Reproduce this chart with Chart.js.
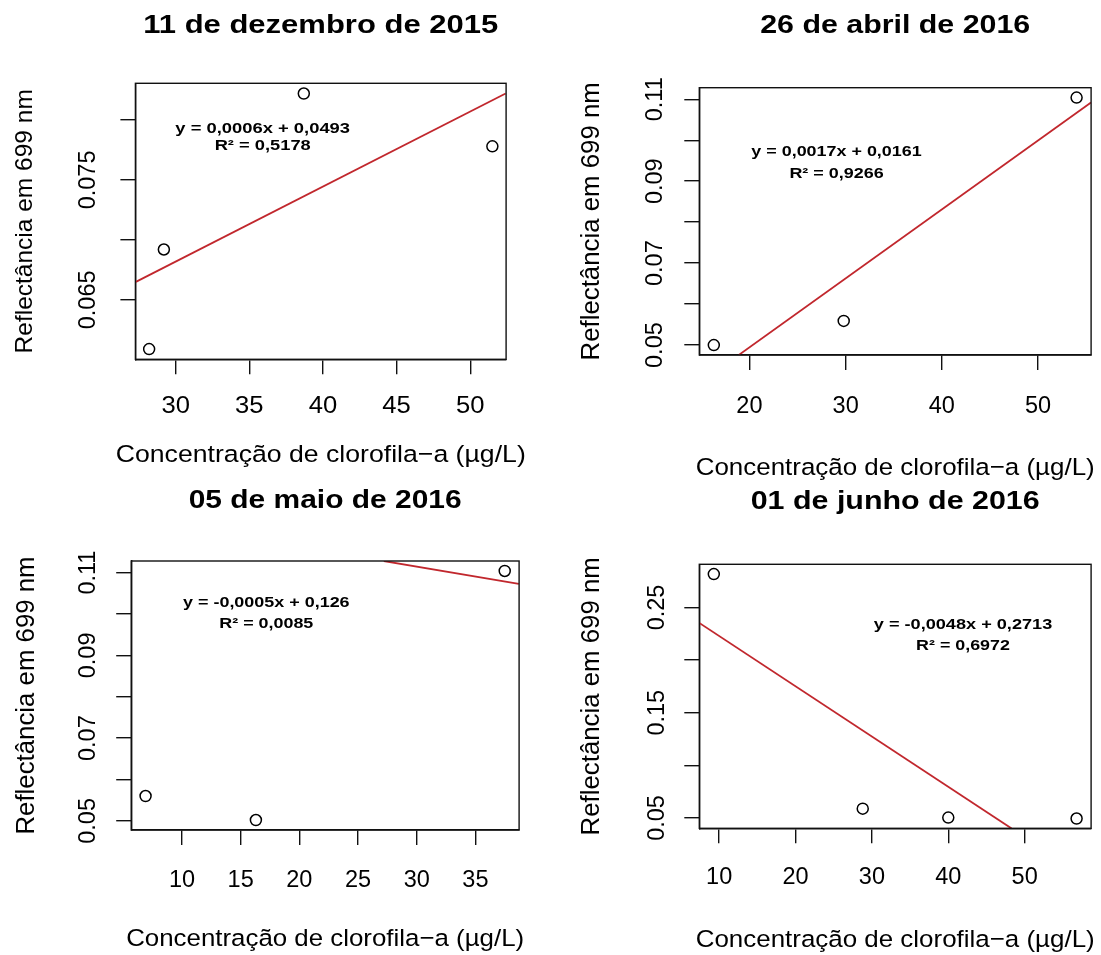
<!DOCTYPE html>
<html>
<head>
<meta charset="utf-8">
<script src="https://cdn.jsdelivr.net/npm/chart.js@4.4.1/dist/chart.umd.min.js"></script>
<style>
  html, body { margin: 0; padding: 0; background: #fff; }
  #wrap { position: relative; width: 1101px; height: 955px; }
  #wrap canvas { position: absolute; left: 0; top: 0; }
</style>
</head>
<body>
<div id="wrap">
  <canvas id="c1" width="1101" height="955"></canvas>
  <canvas id="c2" width="1101" height="955"></canvas>
  <canvas id="c3" width="1101" height="955"></canvas>
  <canvas id="c4" width="1101" height="955"></canvas>
</div>
<script>
// ---- data ----
const xAxisTitle = 'Concentração de clorofila−a (µg/L)';
const yAxisTitle = 'Reflectância em 699 nm';

// 11 de dezembro de 2015
const dez15Title = '11 de dezembro de 2015';
const dez15X = [28.2, 29.2, 38.7, 51.5];
const dez15Y = [0.0609, 0.0692, 0.0822, 0.0778];
const dez15FitX = [27.3, 52.4];
const dez15FitY = [0.0665, 0.0822];
const dez15Eq = ['y = 0,0006x + 0,0493', 'R² = 0,5178'];
const dez15XTicks = ['30', '35', '40', '45', '50'];
const dez15YTicks = ['0.065', '0.075'];

// 26 de abril de 2016
const abr16Title = '26 de abril de 2016';
const abr16X = [16.3, 29.8, 54.0];
const abr16Y = [0.0500, 0.0559, 0.1104];
const abr16FitX = [18.9, 55.5];
const abr16FitY = [0.0476, 0.1092];
const abr16Eq = ['y = 0,0017x + 0,0161', 'R² = 0,9266'];
const abr16XTicks = ['20', '30', '40', '50'];
const abr16YTicks = ['0.05', '0.07', '0.09', '0.11'];

// 05 de maio de 2016
const mai16Title = '05 de maio de 2016';
const mai16X = [6.9, 16.3, 37.5];
const mai16Y = [0.0560, 0.0502, 0.1104];
const mai16FitX = [27.2, 38.7];
const mai16FitY = [0.1128, 0.1073];
const mai16Eq = ['y = -0,0005x + 0,126', 'R² = 0,0085'];
const mai16XTicks = ['10', '15', '20', '25', '30', '35'];
const mai16YTicks = ['0.05', '0.07', '0.09', '0.11'];

// 01 de junho de 2016
const jun16Title = '01 de junho de 2016';
const jun16X = [9.3, 28.8, 40.0, 56.8];
const jun16Y = [0.2817, 0.0589, 0.0504, 0.0495];
const jun16FitX = [7.3, 48.3];
const jun16FitY = [0.2358, 0.0400];
const jun16Eq = ['y = -0,0048x + 0,2713', 'R² = 0,6972'];
const jun16XTicks = ['10', '20', '30', '40', '50'];
const jun16YTicks = ['0.05', '0.15', '0.25'];

// ---- look ----
const W = 1101, H = 955, TICK = 15;
const FONT = "'Liberation Sans', Arial, Helvetica, sans-serif";
const RED = '#c1272d';

// R-style axis limits: data range widened by 4% on each side
function rLim(v) {
  const lo = Math.min(...v), hi = Math.max(...v), r = hi - lo;
  return [lo - 0.04 * r, hi + 0.04 * r];
}

function drawText(ctx, txt, x, y, font, o) {
  o = o || {};
  ctx.save();
  ctx.font = font;
  ctx.fillStyle = '#000';
  ctx.textAlign = 'center';
  ctx.textBaseline = 'alphabetic';
  ctx.translate(x, y);
  if (o.rot) ctx.rotate(-Math.PI / 2);
  let sx = o.sx || 1;
  if (o.width) sx = o.width / ctx.measureText(txt).width;
  ctx.scale(sx, 1);
  ctx.fillText(txt, 0, 0);
  ctx.restore();
}

function panel(id, d, lay) {
  const xl = rLim(d.x), yl = rLim(d.y);
  const b = lay.box;

  const textPlugin = {
    id: 'rtext',
    afterDraw(chart) {
      const ctx = chart.ctx, a = chart.chartArea;
      const sx = chart.scales.x, sy = chart.scales.y;
      // box
      ctx.save();
      ctx.strokeStyle = '#111';
      ctx.lineWidth = 1.4;
      ctx.strokeRect(a.left, a.top, a.right - a.left, a.bottom - a.top);
      ctx.restore();
      const cx = (a.left + a.right) / 2, cy = (a.top + a.bottom) / 2;
      drawText(ctx, d.title, cx, lay.titleY, 'bold 26px ' + FONT, { width: lay.titleW });
      d.eq.forEach((t, i) => drawText(ctx, t, lay.eqX, lay.eqY[i], 'bold 15px ' + FONT, { width: lay.eqW[i] }));
      d.xTicks.forEach(t => drawText(ctx, t, sx.getPixelForValue(+t), lay.xTickY, '23.5px ' + FONT, { sx: lay.sx }));
      d.yTicks.forEach(t => drawText(ctx, t, lay.yTickX, sy.getPixelForValue(+t), '23.5px ' + FONT, { rot: true }));
      drawText(ctx, xAxisTitle, cx, lay.xTitleY, '24.5px ' + FONT, { width: lay.xTitleW });
      drawText(ctx, yAxisTitle, lay.yTitleX, cy, lay.yTitleFont + 'px ' + FONT, { rot: true });
    }
  };

  const axisStyle = {
    type: 'linear',
    ticks: { display: false, autoSkip: false, includeBounds: false },
    grid: { drawOnChartArea: false, drawTicks: true, tickLength: TICK, color: '#111', lineWidth: 1.4 },
    border: { display: true, color: '#111', width: 1.4 }
  };

  new Chart(document.getElementById(id), {
    type: 'scatter',
    data: {
      datasets: [
        {
          data: d.fitX.map((v, i) => ({ x: v, y: d.fitY[i] })),
          showLine: true,
          borderColor: RED,
          borderWidth: 1.8,
          pointRadius: 0,
          order: 1
        },
        {
          data: d.x.map((v, i) => ({ x: v, y: d.y[i] })),
          pointStyle: 'circle',
          pointRadius: 5.5,
          borderWidth: 1.5,
          borderColor: '#000',
          backgroundColor: 'rgba(0,0,0,0)',
          order: 0
        }
      ]
    },
    options: {
      responsive: false,
      animation: false,
      events: [],
      layout: { padding: { left: b.l - TICK, top: b.t, right: W - b.r, bottom: H - b.b - TICK } },
      plugins: { legend: { display: false }, tooltip: { enabled: false } },
      scales: {
        x: Object.assign({}, axisStyle, {
          position: 'bottom', min: xl[0], max: xl[1],
          ticks: Object.assign({}, axisStyle.ticks, { stepSize: lay.xStep }),
          afterFit: s => { s.height = TICK; }
        }),
        y: Object.assign({}, axisStyle, {
          position: 'left', min: yl[0], max: yl[1],
          ticks: Object.assign({}, axisStyle.ticks, { stepSize: lay.yStep }),
          afterFit: s => { s.width = TICK; }
        })
      }
    },
    plugins: [textPlugin]
  });
}

panel('c1',
  { title: dez15Title, x: dez15X, y: dez15Y, fitX: dez15FitX, fitY: dez15FitY, eq: dez15Eq, xTicks: dez15XTicks, yTicks: dez15YTicks },
  { box: { l: 135.4, t: 83.3, r: 506.1, b: 359.3 }, xStep: 5, yStep: 0.005,
    titleY: 33.3, titleW: 355, eqX: 262.7, eqY: [132.7, 150], eqW: [174.7, 96.1],
    xTickY: 413.3, sx: 1.09, yTickX: 95, xTitleY: 462, xTitleW: 410, yTitleX: 32.3, yTitleFont: 24.5 });

panel('c2',
  { title: abr16Title, x: abr16X, y: abr16Y, fitX: abr16FitX, fitY: abr16FitY, eq: abr16Eq, xTicks: abr16XTicks, yTicks: abr16YTicks },
  { box: { l: 699.3, t: 87.7, r: 1091.1, b: 355 }, xStep: 10, yStep: 0.01,
    titleY: 33.3, titleW: 270, eqX: 836.5, eqY: [156, 178], eqW: [170.4, 94.2],
    xTickY: 413.3, sx: 1.0, yTickX: 662.4, xTitleY: 475, xTitleW: 399, yTitleX: 599.2, yTitleFont: 25.8 });

panel('c3',
  { title: mai16Title, x: mai16X, y: mai16Y, fitX: mai16FitX, fitY: mai16FitY, eq: mai16Eq, xTicks: mai16XTicks, yTicks: mai16YTicks },
  { box: { l: 131.2, t: 561, r: 519.1, b: 830 }, xStep: 5, yStep: 0.01,
    titleY: 508.3, titleW: 273, eqX: 266.3, eqY: [607, 628], eqW: [166.6, 94],
    xTickY: 887, sx: 1.0, yTickX: 94.7, xTitleY: 946, xTitleW: 398, yTitleX: 34, yTitleFont: 25.8 });

panel('c4',
  { title: jun16Title, x: jun16X, y: jun16Y, fitX: jun16FitX, fitY: jun16FitY, eq: jun16Eq, xTicks: jun16XTicks, yTicks: jun16YTicks },
  { box: { l: 699.3, t: 564.3, r: 1091.1, b: 828.3 }, xStep: 10, yStep: 0.05,
    titleY: 509, titleW: 289, eqX: 963, eqY: [629.4, 650.4], eqW: [178.5, 93.8],
    xTickY: 884, sx: 1.0, yTickX: 663.5, xTitleY: 947, xTitleW: 399, yTitleX: 599.2, yTitleFont: 25.8 });
</script>
</body>
</html>
